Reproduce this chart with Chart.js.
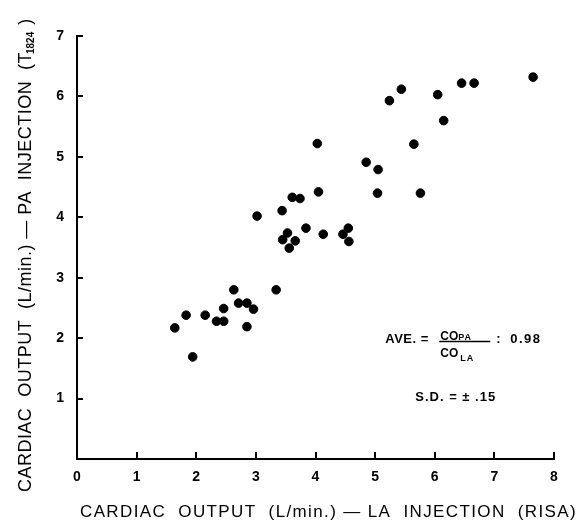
<!DOCTYPE html>
<html>
<head>
<meta charset="utf-8">
<script src="https://cdn.jsdelivr.net/npm/chart.js@4.4.1/dist/chart.umd.min.js"></script>
<style>
  html, body { margin: 0; padding: 0; background: #fff; }
  canvas { display: block; }
</style>
</head>
<body>
<canvas id="coChart" width="582" height="525"></canvas>
<script>
// Cardiac output, LA injection (RISA) vs PA injection (T1824), L/min
const laOutput = [
    1.64, 1.83, 1.94, 2.15, 2.34, 2.46, 2.46, 2.63, 2.71, 2.85,
    2.85, 2.96, 3.34, 3.02, 3.44, 3.61, 3.74, 3.53, 3.45, 3.66,
    3.56, 3.84, 4.05, 4.03, 4.13, 4.46, 4.55, 4.56, 4.85, 5.05,
    5.04, 5.24, 5.44, 5.65, 5.76, 6.05, 6.15, 6.45, 6.66, 7.65
];
const paOutput = [
    2.17, 2.38, 1.69, 2.38, 2.28, 2.28, 2.49, 2.80, 2.58, 2.58,
    2.19, 2.48, 2.80, 4.02, 4.11, 4.33, 4.31, 3.74, 3.63, 3.61,
    3.49, 3.82, 4.42, 5.22, 3.72, 3.72, 3.82, 3.60, 4.91, 4.79,
    4.40, 5.93, 6.12, 5.21, 4.40, 6.03, 5.60, 6.22, 6.22, 6.32
];
const xTicks = [0, 1, 2, 3, 4, 5, 6, 7, 8];
const yTicks = [1, 2, 3, 4, 5, 6, 7];

const points = laOutput.map((x, i) => ({ x: x, y: paOutput[i] }));

// letter spacing that stretches a string to a given pixel span
function fitSpacing(ctx, text, target) {
    ctx.letterSpacing = '0px';
    const w = ctx.measureText(text).width;
    return (target - w) / text.length;
}

// short tick marks pointing into the plot
const inwardTicks = {
    id: 'inwardTicks',
    afterDraw(chart) {
        const { ctx, chartArea, scales } = chart;
        ctx.save();
        ctx.strokeStyle = '#000';
        ctx.lineWidth = 2;
        xTicks.forEach(v => {
            if (v === 0) return;
            const px = Math.round(scales.x.getPixelForValue(v));
            ctx.beginPath();
            ctx.moveTo(px, chartArea.bottom);
            ctx.lineTo(px, chartArea.bottom - 7);
            ctx.stroke();
        });
        yTicks.forEach(v => {
            const py = Math.round(scales.y.getPixelForValue(v));
            ctx.beginPath();
            ctx.moveTo(chartArea.left, py);
            ctx.lineTo(chartArea.left + 6, py);
            ctx.stroke();
        });
        ctx.restore();
    }
};

// axis titles and the ratio note
const labels = {
    id: 'labels',
    afterDraw(chart) {
        const { ctx, scales } = chart;
        ctx.save();
        ctx.fillStyle = '#000';
        ctx.textBaseline = 'alphabetic';
        ctx.textAlign = 'left';

        // x title
        const xTitle = 'CARDIAC  OUTPUT  (L/min.) \u2014 LA  INJECTION  (RISA)';
        ctx.font = '17px "Liberation Sans", Arial, sans-serif';
        let sp = fitSpacing(ctx, xTitle, 497);
        ctx.letterSpacing = sp + 'px';
        ctx.fillText(xTitle, 80, 517);

        // y title, rotated, with T1824 subscript
        const yMain = 'CARDIAC  OUTPUT  (L/min.) \u2014 PA  INJECTION  (T';
        ctx.translate(31, 492);
        ctx.rotate(-Math.PI / 2);
        ctx.font = '18px "Liberation Sans", Arial, sans-serif';
        sp = fitSpacing(ctx, yMain, 440);
        ctx.letterSpacing = sp + 'px';
        ctx.fillText(yMain, 0, 0);
        let off = ctx.measureText(yMain).width;
        ctx.font = 'bold 10px "Liberation Sans", Arial, sans-serif';
        ctx.letterSpacing = '0px';
        ctx.fillText('1824', off - 2, 3);
        off += ctx.measureText('1824').width;
        ctx.font = '18px "Liberation Sans", Arial, sans-serif';
        ctx.fillText(' )', off, 0);
        ctx.setTransform(1, 0, 0, 1, 0, 0);

        // ratio note, anchored on data coordinates
        const ax = scales.x.getPixelForValue(5.17);
        const ay = scales.y.getPixelForValue(1.99);
        ctx.letterSpacing = '0.5px';
        ctx.font = 'bold 13px "Liberation Sans", Arial, sans-serif';
        ctx.fillText('AVE. =', ax, ay + 4);
        ctx.fillText(':', ax + 111, ay + 4);
        ctx.letterSpacing = '1.5px';
        ctx.fillText('0.98', ax + 125, ay + 4);
        ctx.letterSpacing = '0px';
        ctx.font = 'bold 12px "Liberation Sans", Arial, sans-serif';
        ctx.fillText('CO', ax + 55, ay + 1);
        ctx.fillText('CO', ax + 55, ay + 18);
        ctx.font = 'bold 9px "Liberation Sans", Arial, sans-serif';
        ctx.letterSpacing = '1px';
        ctx.fillText('PA', ax + 73, ay + 1);
        ctx.fillText('LA', ax + 75, ay + 22);
        ctx.fillRect(ax + 54, ay + 2, 51, 1.5);
        ctx.font = 'bold 13px "Liberation Sans", Arial, sans-serif';
        ctx.letterSpacing = '1px';
        ctx.fillText('S.D. = \u00b1 .15', ax + 30, ay + 62);
        ctx.restore();
    }
};

const ctx = document.getElementById('coChart').getContext('2d');
new Chart(ctx, {
    type: 'scatter',
    data: {
        datasets: [{
            data: points,
            backgroundColor: '#000',
            borderColor: '#000',
            pointRadius: 4.3,
            pointHoverRadius: 4.3
        }]
    },
    options: {
        responsive: false,
        animation: false,
        layout: {
            padding: { left: 0, top: 36, right: 28, bottom: 0 }
        },
        plugins: {
            legend: { display: false },
            tooltip: { enabled: false }
        },
        scales: {
            x: {
                type: 'linear',
                min: 0,
                max: 8,
                afterFit: (scale) => { scale.height = 66; },
                afterBuildTicks: (scale) => { scale.ticks = xTicks.map(v => ({ value: v })); },
                grid: { display: false, drawTicks: false },
                border: { display: true, color: '#000', width: 2 },
                ticks: {
                    color: '#000',
                    padding: 10,
                    font: { family: '"Liberation Sans", Arial, sans-serif', size: 14, weight: 'bold' }
                }
            },
            y: {
                type: 'linear',
                min: 0,
                max: 7,
                afterFit: (scale) => { scale.width = 77; },
                afterBuildTicks: (scale) => { scale.ticks = [0].concat(yTicks).map(v => ({ value: v })); },
                grid: { display: false, drawTicks: false },
                border: { display: true, color: '#000', width: 2 },
                ticks: {
                    color: '#000',
                    padding: 13,
                    font: { family: '"Liberation Sans", Arial, sans-serif', size: 14, weight: 'bold' },
                    callback: (v) => v === 0 ? '' : v
                }
            }
        }
    },
    plugins: [inwardTicks, labels]
});
</script>
</body>
</html>
